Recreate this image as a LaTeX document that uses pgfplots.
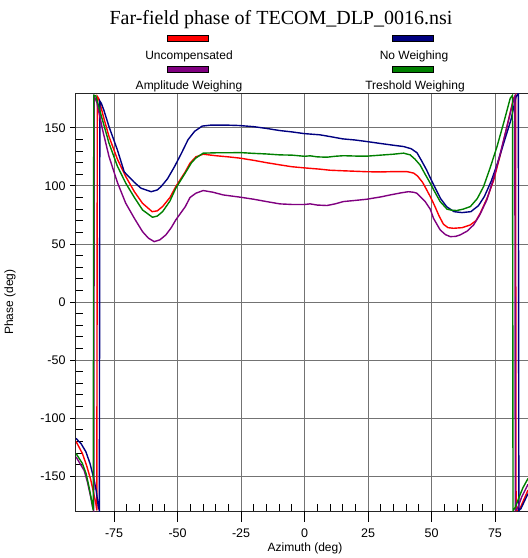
\documentclass[border=0pt]{standalone}
\usepackage{fontspec}
\setmainfont{Liberation Sans}
\newfontfamily\timesfont{Liberation Serif}
\usepackage{pgfplots}
\pgfplotsset{compat=1.18}
\definecolor{cUnc}{RGB}{255,0,0}
\definecolor{cNo}{RGB}{0,0,128}
\definecolor{cAmp}{RGB}{128,0,128}
\definecolor{cTre}{RGB}{0,128,0}
\begin{document}
\begin{tikzpicture}
\begin{axis}[
  scale only axis,
  width=452pt, height=418pt,
  xmin=-90, xmax=88, ymin=-180, ymax=180,
  xtick={-75,-50,-25,0,25,50,75},
  ytick={-150,-100,-50,0,50,100,150},
  minor x tick num=4, minor y tick num=4,
  xtick pos=bottom, ytick pos=left,
  tick align=inside,
  major tick length=-6pt, minor tick length=7pt,
  extra x ticks={-75,-50,-25,0,25,50,75},
  extra x tick labels={},
  extra x tick style={grid=none, major tick length=-11pt},
  tick style={black, line width=0.8pt},
  grid=major,
  major grid style={black!55, line width=0.8pt},
  axis line style={black!85, line width=1pt},
  /pgf/number format/assume math mode=true,
  tick label style={font=\fontsize{12.5}{14}\selectfont},
  yticklabel style={xshift=-7pt},
  xticklabel style={yshift=-14pt},
  every axis plot/.append style={line width=1.4pt},
]
\addplot[cUnc] coordinates {
(-90,-120) (-87.5,-130.4) (-85.8,-141) (-84.2,-153) (-83,-165) (-82.2,-173.5) (-81.8,-179.5)
(-81.6,177) (-81,175) (-79,158) (-77,142.5) (-73.7,123) (-70.4,108) (-67,95) (-63.8,85)
(-60,77.8) (-58,78.5) (-55.9,82.2) (-53,90) (-50.7,99.4) (-47,112) (-45.1,119.6) (-42.8,125)
(-39.9,127.3) (-35,126) (-30,125) (-25.4,123.9) (-20,122) (-15,120) (-9.7,118.1) (-5,116.5)
(0,115.5) (6.1,114.4) (10,113.5) (15.3,113) (20,112.6) (24.5,112.2) (30,112) (35,112.3)
(40.3,112.3) (43,111) (44.5,108.5) (46.5,103) (48,97) (49.5,90.8) (51,84) (53,74) (54.7,67)
(56.5,64) (58.7,63.5) (62,64) (65.3,66.4) (67.5,70) (69.2,76.5) (72,90) (74.5,105) (77,126)
(79.7,151) (82.3,175.5) (83.1,178) (83.3,-179.5) (84.6,-179) (86,-172) (88,-162)
};
\addplot[cNo] coordinates {
(-90,-117.5) (-88,-122) (-86.1,-129) (-84.5,-139) (-82.9,-153) (-82,-163) (-81.2,-176.5)
(-80.8,-179.5) (-80.6,173) (-80,171) (-79,165) (-77,151) (-73.7,131) (-71,112) (-67,103)
(-64.4,98) (-60.4,95) (-58,96.5) (-56.5,99.4) (-54,106) (-51.2,116.6) (-48.5,128) (-45.9,139.7)
(-43.3,147) (-40.3,151.5) (-37,152.3) (-30,152.3) (-25.8,152) (-20,151) (-15,149.5) (-9.9,147.7)
(-5,146.5) (0,145) (6,144) (10,142.5) (15,140.5) (20,139.5) (24.5,138.2) (30,136.5) (35,135)
(39,133.9) (42,132) (44.3,128.5) (46,122) (48,114) (49.6,106.5) (51.5,98) (53.6,89) (56,82)
(58.9,77.8) (62,77) (65.5,77.8) (68.5,83) (70.8,90.8) (73.5,104) (76,119.6) (78.6,138)
(81.3,157) (83.3,177) (84.2,179.5) (84.4,-179.5) (85.2,-178) (86.5,-172) (88,-165)
};
\addplot[cAmp] coordinates {
(-90,-133.4) (-86.8,-145) (-85.5,-155) (-84.2,-168) (-83.5,-176.5) (-83,-179.5) (-82.8,177)
(-81.8,172) (-79.5,148) (-77,125.3) (-73.7,103) (-70.4,85) (-67,72) (-63.8,60.6) (-61.5,55)
(-59.2,52) (-57,53.5) (-54.6,57.8) (-52.5,64) (-50.7,70.7) (-47,82) (-45.1,90) (-42.8,93.7)
(-39.9,96) (-36,94.5) (-32,92.2) (-25.4,90.3) (-20,88.5) (-15,86.5) (-9.7,84.5) (-5,84) (0,84)
(2.2,84.5) (5,83.5) (8.8,83.1) (12,84.5) (15.3,86.5) (20,87.5) (24.5,88.5) (30,90.5) (33.7,92.2)
(38,94) (40.9,95) (43,94.5) (44.2,93.7) (45.5,90.8) (47.5,86.5) (49.5,80) (50.8,72) (53.4,62.1)
(55.5,58) (57.4,56.3) (59.5,56.5) (61.3,57.8) (64,61) (66.6,66.4) (69,75) (71.8,88) (74.5,107)
(77.1,128.2) (79.7,151) (82.3,174) (82.8,177) (83,-179.5) (83.8,-178) (85.5,-168) (88,-157)
};
\addplot[cTre] coordinates {
(-90,-130.4) (-87.5,-139) (-86,-148) (-84.9,-159) (-83.5,-175) (-83.2,-179.5) (-83,178)
(-82.2,177.6) (-80,160) (-77,136.8) (-73.7,117) (-70.4,102.3) (-67,90) (-63.8,79.3) (-59.9,73)
(-58,74) (-55.9,77.8) (-53,87) (-50.7,98) (-47,111) (-44.5,120) (-42.8,124) (-39.9,128.2)
(-35,128.5) (-30,128.5) (-25.4,128.7) (-20,128) (-15,127.5) (-9.7,126.7) (-5,126.5) (0,125.5)
(2.2,125.9) (5,125) (8.8,124.7) (12,125.5) (15.3,126) (20,125.7) (24.5,125.6) (30,126.5)
(35,127.3) (39,128.2) (41.6,126.7) (43.5,123) (45.5,118) (47.5,110) (49.5,102.3) (51,96)
(53.4,86.5) (56.1,80) (58,79) (60,78.8) (62.5,80) (65.3,82.2) (68,89) (70.5,99.4) (73,115)
(75.8,133.9) (78.5,155) (81,175.5) (81.9,178) (82.1,-179.5) (83,-177) (84.5,-168) (86,-160) (88,-152)
};
\end{axis}
% title
\node[font=\timesfont\fontsize{20}{22}\selectfont, anchor=base] at (205pt,486pt) {Far-field phase of TECOM\_DLP\_0016.nsi};
% legend
\filldraw[fill=cUnc, draw=black, line width=0.5pt] (91pt,470pt) rectangle (132pt,476pt);
\filldraw[fill=cNo, draw=black, line width=0.5pt] (316.5pt,470pt) rectangle (357.5pt,476pt);
\filldraw[fill=cAmp, draw=black, line width=0.5pt] (91pt,439pt) rectangle (132pt,445pt);
\filldraw[fill=cTre, draw=black, line width=0.5pt] (316.5pt,439pt) rectangle (357.5pt,445pt);
\node[font=\fontsize{12}{14}\selectfont, anchor=base, inner sep=0pt] at (113pt,451.7pt) {Uncompensated};
\node[font=\fontsize{12}{14}\selectfont, anchor=base, inner sep=0pt] at (338pt,451.7pt) {No Weighing};
\node[font=\fontsize{12}{14}\selectfont, anchor=base, inner sep=0pt] at (113pt,421pt) {Amplitude Weighing};
\node[font=\fontsize{12}{14}\selectfont, anchor=base, inner sep=0pt] at (339pt,421pt) {Treshold Weighing};
% axis labels
\node[font=\fontsize{12}{14}\selectfont] at (229pt,-37pt) {Azimuth (deg)};
\node[font=\fontsize{12}{14}\selectfont, rotate=90] at (-66pt,209pt) {Phase (deg)};
\pgfresetboundingbox
\path (-76pt,-47pt) rectangle (452pt,511pt);
\end{tikzpicture}
\end{document}
